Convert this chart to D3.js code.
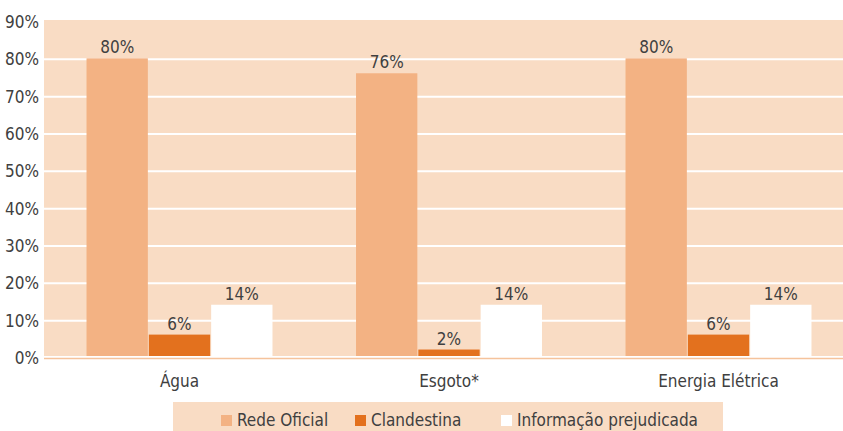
<!DOCTYPE html>
<html>
<head>
<meta charset="utf-8">
<script src="https://cdn.jsdelivr.net/npm/d3@7"></script>
<style>
  html, body { margin: 0; padding: 0; background: #ffffff; }
  svg { display: block; }
  text { font-family: "Liberation Sans Narrow", "DejaVu Sans Condensed", "Roboto", sans-serif; fill: #404040; }
</style>
</head>
<body>
<svg id="chart" width="843" height="431"></svg>
<script>
// Access to services, share of households by type of connection
const categories = ["Água", "Esgoto*", "Energia Elétrica"];
const seriesNames = ["Rede Oficial", "Clandestina", "Informação prejudicada"];
const redeOficial = [80, 76, 80];
const clandestina = [6, 2, 6];
const informacaoPrejudicada = [14, 14, 14];
const yTicks = [0, 10, 20, 30, 40, 50, 60, 70, 80, 90];

const seriesValues = [redeOficial, clandestina, informacaoPrejudicada];
const colors = ["#f3b283", "#e3711e", "#ffffff"];
const bgColor = "#f9dcc4";

const W = 843, H = 431;
const plotLeft = 44, plotTop = 20, plotBottom = 356;

const svg = d3.select("#chart");

const y = d3.scaleLinear().domain([0, 90]).range([358, 22]);
const x0 = d3.scaleBand().domain(categories).range([44.75, 853.25])
  .paddingInner(0.31).paddingOuter(0.155);
const x1 = d3.scaleBand().domain(seriesNames).range([0, x0.bandwidth()])
  .paddingInner(0.016);

// plot background
svg.append("rect")
  .attr("x", plotLeft).attr("y", plotTop)
  .attr("width", W - plotLeft).attr("height", plotBottom - plotTop)
  .attr("fill", bgColor);

// horizontal gridlines
svg.append("g").selectAll("line")
  .data(yTicks.filter(t => t > 0 && t < 90))
  .join("line")
  .attr("x1", plotLeft).attr("x2", W)
  .attr("y1", d => y(d)).attr("y2", d => y(d))
  .attr("stroke", "#ffffff").attr("stroke-width", 2);

// baseline
svg.append("line")
  .attr("x1", plotLeft).attr("x2", W)
  .attr("y1", 358.5).attr("y2", 358.5)
  .attr("stroke", "#f5c39c").attr("stroke-width", 1.6);

// y tick labels
svg.append("g").selectAll("text")
  .data(yTicks)
  .join("text")
  .attr("x", 39).attr("y", d => y(d))
  .attr("dy", "0.36em")
  .attr("text-anchor", "end")
  .attr("font-size", 17)
  .text(d => d + "%");

// bars
const groups = svg.append("g").selectAll("g")
  .data(categories)
  .join("g")
  .attr("transform", d => `translate(${x0(d)},0)`);

groups.selectAll("rect")
  .data((c, ci) => seriesNames.map((s, si) => ({ s, si, v: seriesValues[si][ci] })))
  .join("rect")
  .attr("x", d => x1(d.s))
  .attr("y", d => y(d.v) - 1)
  .attr("width", x1.bandwidth())
  .attr("height", d => plotBottom - y(d.v) + 1)
  .attr("fill", d => colors[d.si]);

// value labels
groups.selectAll("text")
  .data((c, ci) => seriesNames.map((s, si) => ({ s, si, v: seriesValues[si][ci] })))
  .join("text")
  .attr("x", d => x1(d.s) + x1.bandwidth() / 2)
  .attr("y", d => y(d.v) - 6)
  .attr("text-anchor", "middle")
  .attr("font-size", 17)
  .text(d => d.v + "%");

// category labels
svg.append("g").selectAll("text")
  .data(categories)
  .join("text")
  .attr("x", d => x0(d) + x0.bandwidth() / 2)
  .attr("y", 387)
  .attr("text-anchor", "middle")
  .attr("font-size", 17)
  .text(d => d);

// legend
const legend = svg.append("g");
legend.append("rect")
  .attr("x", 173).attr("y", 402)
  .attr("width", 550).attr("height", 29)
  .attr("fill", bgColor);

const legendX = [221, 355, 501];
const items = legend.selectAll("g.item")
  .data(seriesNames)
  .join("g")
  .attr("class", "item")
  .attr("transform", (d, i) => `translate(${legendX[i]},415)`);
items.append("rect")
  .attr("width", 11).attr("height", 11)
  .attr("fill", (d, i) => colors[i]);
items.append("text")
  .attr("x", 16).attr("y", 11)
  .attr("font-size", 17)
  .text(d => d);
</script>
</body>
</html>
